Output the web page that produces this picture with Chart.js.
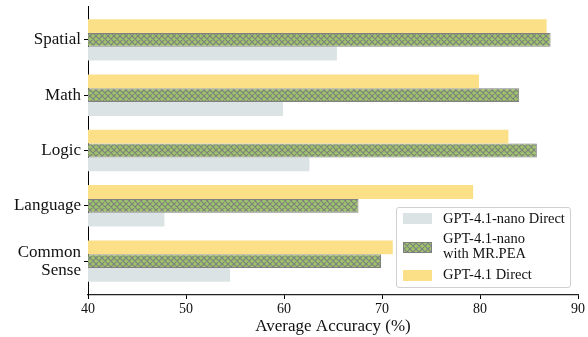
<!DOCTYPE html>
<html>
<head>
<meta charset="utf-8">
<script src="https://cdn.jsdelivr.net/npm/chart.js@4.4.1/dist/chart.umd.min.js"></script>
<style>
  html, body { margin: 0; padding: 0; background: #fff; }
  #wrap { position: relative; width: 588px; height: 337px; }
  #legend {
    position: absolute; left: 396px; top: 207px; width: 173px; height: 79px;
    border: 1px solid #d0d0d0; border-radius: 3px; background: rgba(255,255,255,0.85);
    font-family: 'Liberation Serif', 'Times New Roman', serif; font-size: 14.5px; color: #111;
  }
  .sw { position: absolute; left: 6px; width: 29px; height: 11px; }
  .lbl { position: absolute; left: 46px; line-height: 15px; white-space: nowrap; }
</style>
</head>
<body>
<div id="wrap">
  <canvas id="chart" width="588" height="337"></canvas>
  <div id="legend">
    <div class="sw" id="sw1" style="top:5px;background:#dce3e4;"></div>
    <div class="lbl" style="top:3px;">GPT-4.1-nano Direct</div>
    <div class="sw" id="sw2" style="top:34px;border:1px solid #808080;box-sizing:border-box;"></div>
    <div class="lbl" style="top:23px;">GPT-4.1-nano<br>with MR.PEA</div>
    <div class="sw" id="sw3" style="top:62px;background:#fbe087;"></div>
    <div class="lbl" style="top:59px;">GPT-4.1 Direct</div>
  </div>
</div>
<script>
// categories, top to bottom
const categories = ['Spatial', 'Math', 'Logic', 'Language', ['Common', 'Sense']];
const xTicks = [40, 50, 60, 70, 80, 90];

// values
const nanoDirect = [65.4, 59.9, 62.6, 47.8, 54.5];
const nanoMrpea  = [87.2, 84.0, 85.8, 67.6, 69.9];
const fullDirect = [86.8, 79.9, 82.9, 79.3, 71.1];

// hatched fill for MR.PEA
function makeHatch() {
    const c = document.createElement('canvas');
    c.width = 6; c.height = 6;
    const g = c.getContext('2d');
    g.fillStyle = '#9dc46a';
    g.fillRect(0, 0, 6, 6);
    g.strokeStyle = '#7f7f7f';
    g.lineWidth = 1.1;
    g.beginPath();
    g.moveTo(-1, -1); g.lineTo(7, 7);
    g.moveTo(-1, 7); g.lineTo(7, -1);
    g.moveTo(-1, 5); g.lineTo(1, 7);
    g.moveTo(5, -1); g.lineTo(7, 1);
    g.moveTo(-1, 1); g.lineTo(1, -1);
    g.moveTo(5, 7); g.lineTo(7, 5);
    g.stroke();
    return c;
}

const hatchCanvas = makeHatch();
const ctx = document.getElementById('chart').getContext('2d');
const hatch = ctx.createPattern(hatchCanvas, 'repeat');
document.getElementById('sw2').style.background = 'url(' + hatchCanvas.toDataURL() + ')';

// y index: Spatial at the top
const n = categories.length;
const toPoints = arr => arr.map((v, i) => ({ x: v, y: n - 1 - i }));

const serif = "'Liberation Serif', 'Times New Roman', serif";

new Chart(ctx, {
    type: 'bar',
    data: {
        datasets: [
            { label: 'GPT-4.1 Direct', data: toPoints(fullDirect), backgroundColor: '#fbe087', borderWidth: 0 },
            { label: 'GPT-4.1-nano with MR.PEA', data: toPoints(nanoMrpea), backgroundColor: hatch, borderColor: '#808080', borderWidth: 1 },
            { label: 'GPT-4.1-nano Direct', data: toPoints(nanoDirect), backgroundColor: '#dce3e4', borderWidth: 0 }
        ]
    },
    options: {
        indexAxis: 'y',
        responsive: false,
        animation: false,
        categoryPercentage: 0.75,
        barPercentage: 1.0,
        layout: { padding: { top: 6, right: 10, bottom: 0, left: 0 } },
        scales: {
            x: {
                type: 'linear',
                min: 40, max: 90,
                afterFit: s => { s.height = 42; },
                afterBuildTicks: s => { s.ticks = xTicks.map(v => ({ value: v })); },
                grid: { drawOnChartArea: false, tickLength: 4, color: '#000' },
                border: { color: '#222', width: 1.2 },
                ticks: { font: { family: serif, size: 14 }, color: '#111', padding: 2, maxRotation: 0 },
                title: { display: true, text: 'Average Accuracy (%)', font: { family: serif, size: 17 }, color: '#111', padding: { top: 1, bottom: 0 } }
            },
            y: {
                type: 'linear',
                offset: false,
                min: -0.6125, max: n - 1 + 0.6125,
                afterFit: s => { s.width = 88; s.paddingTop = 0; s.paddingBottom = 0; },
                afterBuildTicks: s => { s.ticks = categories.map((c, i) => ({ value: i })); },
                grid: { drawOnChartArea: false, offset: false, tickLength: 4, color: '#000' },
                border: { color: '#000', width: 1 },
                ticks: {
                    font: { family: serif, size: 17, lineHeight: 1.05 }, color: '#111', padding: 3,
                    callback: v => categories[n - 1 - v]
                }
            }
        },
        plugins: {
            legend: { display: false },
            tooltip: { enabled: false }
        }
    }
});
</script>
</body>
</html>
